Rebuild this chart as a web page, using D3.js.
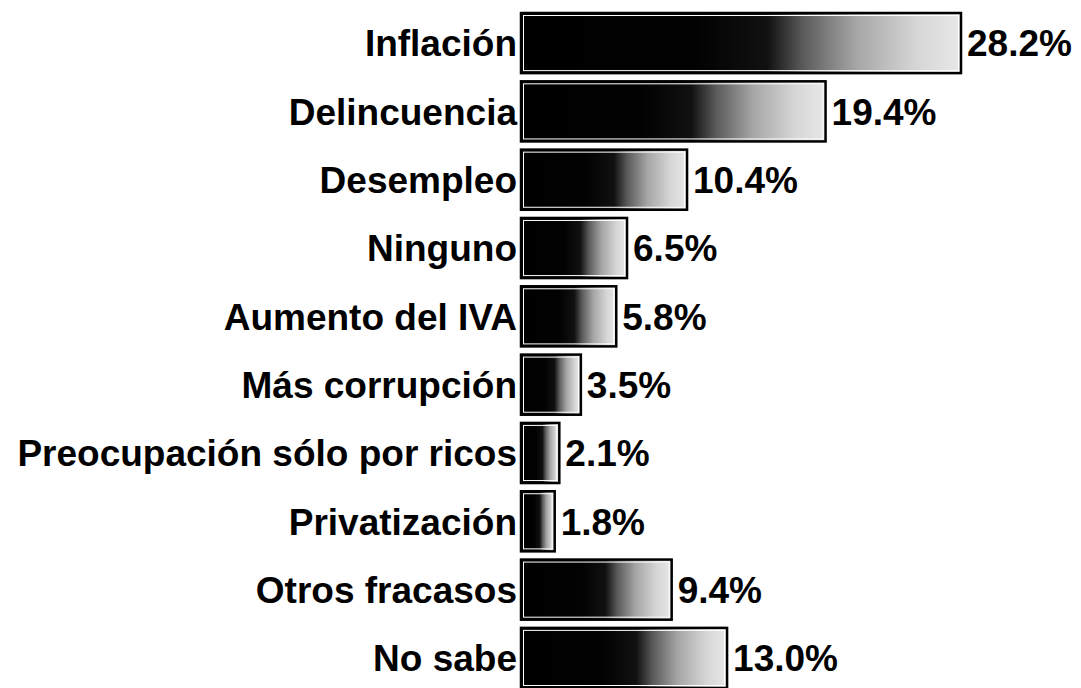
<!DOCTYPE html>
<html>
<head>
<meta charset="utf-8">
<script src="https://cdn.jsdelivr.net/npm/d3@7"></script>
<style>
  body { margin: 0; background: #fff; }
  text { font-family: "Liberation Sans", Arial, sans-serif; font-weight: bold; }
</style>
</head>
<body>
<div id="vis"></div>
<script>
// categories and values
const categories = [
  "Inflación", "Delincuencia", "Desempleo", "Ninguno", "Aumento del IVA",
  "Más corrupción", "Preocupación sólo por ricos", "Privatización",
  "Otros fracasos", "No sabe"
];
const values = [28.2, 19.4, 10.4, 6.5, 5.8, 3.5, 2.1, 1.8, 9.4, 13.0];
const valueLabels = ["28.2%", "19.4%", "10.4%", "6.5%", "5.8%", "3.5%", "2.1%", "1.8%", "9.4%", "13.0%"];

const width = 1081, height = 688;
const margin = { top: 13, right: 0, bottom: 0, left: 521 };

const svg = d3.select("#vis")
  .append("svg")
  .attr("width", width)
  .attr("height", height);

// ----- SCALES ----- //
// bars start a few px left of the zero point of the scale (as in the original)
let x = d3.scaleLinear()
  .domain([0, 28.2])
  .range([527, 961]);

let y = d3.scaleBand()
  .domain(categories)
  .range([margin.top, height])
  .paddingInner(0.12)
  .paddingOuter(0);

// ----- GRADIENT ----- //
let grad = svg.append("defs")
  .append("linearGradient")
  .attr("id", "barGrad")
  .attr("x1", "0%").attr("x2", "100%")
  .attr("y1", "0%").attr("y2", "0%");

grad.append("stop").attr("offset", "0%").attr("stop-color", "#000");
grad.append("stop").attr("offset", "40%").attr("stop-color", "#020202");
grad.append("stop").attr("offset", "56%").attr("stop-color", "#111");
grad.append("stop").attr("offset", "64%").attr("stop-color", "#5a5a5a");
grad.append("stop").attr("offset", "76%").attr("stop-color", "#a5a5a5");
grad.append("stop").attr("offset", "90%").attr("stop-color", "#d6d6d6");
grad.append("stop").attr("offset", "100%").attr("stop-color", "#e8e8e8");

// ----- BARS ----- //
let bars = svg.selectAll(".bar")
  .data(categories)
  .join("g")
  .attr("class", "bar");

bars.append("rect")
  .attr("x", margin.left)
  .attr("y", (d) => y(d))
  .attr("width", (d, i) => x(values[i]) - margin.left)
  .attr("height", y.bandwidth())
  .attr("fill", "url(#barGrad)")
  .attr("stroke", "#000")
  .attr("stroke-width", 2.5);

// thin white inner line
bars.append("rect")
  .attr("x", margin.left + 2.5)
  .attr("y", (d) => y(d) + 2.5)
  .attr("width", (d, i) => Math.max(0, x(values[i]) - margin.left - 5))
  .attr("height", y.bandwidth() - 5)
  .attr("fill", "none")
  .attr("stroke", "#fff")
  .attr("stroke-width", 1);

// ----- LABELS ----- //
svg.selectAll(".cat")
  .data(categories)
  .join("text")
  .attr("class", "cat")
  .attr("x", margin.left - 4)
  .attr("y", (d) => y(d) + y.bandwidth() / 2)
  .attr("dy", "0.36em")
  .attr("text-anchor", "end")
  .style("font-size", "37px")
  .text((d) => d);

svg.selectAll(".val")
  .data(categories)
  .join("text")
  .attr("class", "val")
  .attr("x", (d, i) => x(values[i]) + 6)
  .attr("y", (d) => y(d) + y.bandwidth() / 2)
  .attr("dy", "0.36em")
  .style("font-size", "37px")
  .text((d, i) => valueLabels[i]);
</script>
</body>
</html>
